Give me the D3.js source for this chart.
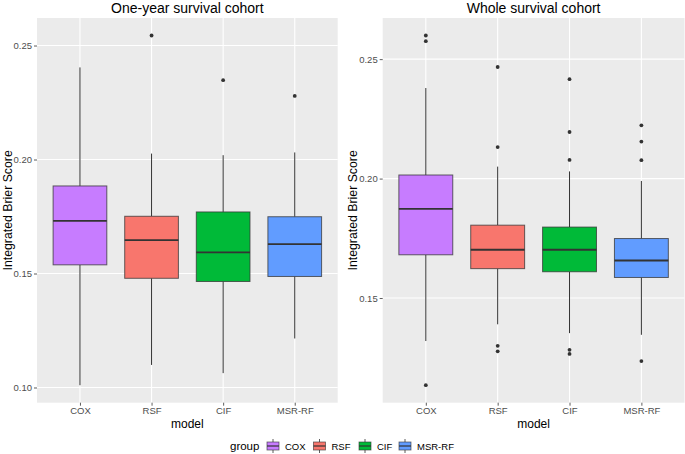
<!DOCTYPE html>
<html>
<head>
<meta charset="utf-8">
<script src="https://cdn.jsdelivr.net/npm/d3@7"></script>
<style>
  body { margin: 0; background: #fff; }
  svg { display: block; font-family: "Liberation Sans", Arial, Helvetica, sans-serif; }
</style>
</head>
<body>
<svg id="chart" width="685" height="454"></svg>
<script>
// ---- Data ----
const models = ["COX", "RSF", "CIF", "MSR-RF"];
const colors = ["#C77CFF", "#F8766D", "#00BA38", "#619CFF"];
const panelTitles = ["One-year survival cohort", "Whole survival cohort"];
const yTicksLeft = [0.10, 0.15, 0.20, 0.25];
const yTicksRight = [0.15, 0.20, 0.25];

// One-year survival cohort
const oneYearLow    = [0.1010, 0.1099, 0.1063, 0.1215];
const oneYearQ1     = [0.1538, 0.1479, 0.1465, 0.1487];
const oneYearMedian = [0.1731, 0.1646, 0.1593, 0.1629];
const oneYearQ3     = [0.1884, 0.1751, 0.1770, 0.1749];
const oneYearHigh   = [0.2404, 0.2026, 0.2019, 0.2031];
const oneYearOutliers = [[], [0.2544], [0.2348], [0.2279]];

// Whole survival cohort
const wholeLow    = [0.1320, 0.1390, 0.1353, 0.1346];
const wholeQ1     = [0.1681, 0.1623, 0.1610, 0.1586];
const wholeMedian = [0.1873, 0.1702, 0.1702, 0.1657];
const wholeQ3     = [0.2015, 0.1805, 0.1797, 0.1749];
const wholeHigh   = [0.2379, 0.2050, 0.2030, 0.1990];
const wholeOutliers = [
  [0.2599, 0.2575, 0.1135],
  [0.2467, 0.2132, 0.1300, 0.1277],
  [0.2416, 0.2195, 0.2078, 0.1283, 0.1266],
  [0.2223, 0.2155, 0.2077, 0.1236]
];

function buildRows(low, q1, med, q3, high, outs) {
  return models.map((m, i) => ({
    model: m, color: colors[i], low: low[i], q1: q1[i], median: med[i],
    q3: q3[i], high: high[i], outliers: outs[i]
  }));
}

const panels = [
  { title: panelTitles[0], rows: buildRows(oneYearLow, oneYearQ1, oneYearMedian, oneYearQ3, oneYearHigh, oneYearOutliers),
    ticks: yTicksLeft, x0: 37, x1: 337.7, yTitleX: 11.5 },
  { title: panelTitles[1], rows: buildRows(wholeLow, wholeQ1, wholeMedian, wholeQ3, wholeHigh, wholeOutliers),
    ticks: yTicksRight, x0: 382.7, x1: 684.5, yTitleX: 357 }
];

const svg = d3.select("#chart");
const panelTop = 18, panelBottom = 402.7;

panels.forEach(p => {
  const all = [];
  p.rows.forEach(r => { all.push(r.low, r.high, ...r.outliers); });
  const [mn, mx] = d3.extent(all);
  const pad = (mx - mn) * 0.05;
  const y = d3.scaleLinear().domain([mn - pad, mx + pad]).range([panelBottom, panelTop]);
  const x = d3.scalePoint().domain(models).range([p.x0, p.x1]).padding(0.6);
  const bw = x.step() * 0.75;

  const g = svg.append("g");
  g.append("rect").attr("x", p.x0).attr("y", panelTop)
    .attr("width", p.x1 - p.x0).attr("height", panelBottom - panelTop).attr("fill", "#EBEBEB");

  g.selectAll(".hg").data(p.ticks).enter().append("line")
    .attr("x1", p.x0).attr("x2", p.x1)
    .attr("y1", d => y(d)).attr("y2", d => y(d))
    .attr("stroke", "#fff").attr("stroke-width", 1.1);
  g.selectAll(".vg").data(models).enter().append("line")
    .attr("x1", d => x(d)).attr("x2", d => x(d))
    .attr("y1", panelTop).attr("y2", panelBottom)
    .attr("stroke", "#fff").attr("stroke-width", 1.1);

  const yAxis = d3.axisLeft(y).tickValues(p.ticks).tickFormat(d3.format(".2f")).tickSize(3).tickPadding(2);
  const ya = g.append("g").attr("transform", `translate(${p.x0},0)`).call(yAxis);
  const xAxis = d3.axisBottom(x).tickSize(3).tickPadding(2);
  const xa = g.append("g").attr("transform", `translate(0,${panelBottom})`).call(xAxis);
  [ya, xa].forEach(a => {
    a.select(".domain").remove();
    a.selectAll(".tick line").attr("stroke", "#333").attr("stroke-width", 0.8);
    a.selectAll(".tick text").attr("fill", "#4D4D4D").style("font-size", "9.5px");
  });

  const bx = g.selectAll(".box").data(p.rows).enter().append("g");
  bx.append("line")
    .attr("x1", d => x(d.model)).attr("x2", d => x(d.model))
    .attr("y1", d => y(d.high)).attr("y2", d => y(d.q3))
    .attr("stroke", "#333").attr("stroke-width", 1);
  bx.append("line")
    .attr("x1", d => x(d.model)).attr("x2", d => x(d.model))
    .attr("y1", d => y(d.q1)).attr("y2", d => y(d.low))
    .attr("stroke", "#333").attr("stroke-width", 1);
  bx.append("rect")
    .attr("x", d => x(d.model) - bw / 2).attr("width", bw)
    .attr("y", d => y(d.q3)).attr("height", d => y(d.q1) - y(d.q3))
    .attr("fill", d => d.color).attr("stroke", "#333").attr("stroke-opacity", 0.75).attr("stroke-width", 1);
  bx.append("line")
    .attr("x1", d => x(d.model) - bw / 2).attr("x2", d => x(d.model) + bw / 2)
    .attr("y1", d => y(d.median)).attr("y2", d => y(d.median))
    .attr("stroke", "#333").attr("stroke-width", 1.8);
  bx.each(function(d) {
    d3.select(this).selectAll("circle").data(d.outliers).enter().append("circle")
      .attr("cx", x(d.model)).attr("cy", v => y(v)).attr("r", 1.9).attr("fill", "#333");
  });

  svg.append("text").attr("x", (p.x0 + p.x1) / 2).attr("y", 12.5)
    .attr("text-anchor", "middle").style("font-size", "14px").attr("fill", "#000").text(p.title);
  svg.append("text").attr("x", (p.x0 + p.x1) / 2).attr("y", 427.5)
    .attr("text-anchor", "middle").style("font-size", "12px").attr("fill", "#000").text("model");
  svg.append("text").attr("transform", `translate(${p.yTitleX},${(panelTop + panelBottom) / 2}) rotate(-90)`)
    .attr("text-anchor", "middle").style("font-size", "12.3px").attr("fill", "#000").text("Integrated Brier Score");
});

// legend
const legY = 446;
const leg = svg.append("g");
leg.append("text").attr("x", 230).attr("y", legY + 4).style("font-size", "11.5px").attr("fill", "#000").text("group");
const keyX = [273, 319.5, 365, 405];
models.forEach((m, i) => {
  const kx = keyX[i];
  leg.append("line").attr("x1", kx).attr("x2", kx).attr("y1", legY - 7).attr("y2", legY + 7)
    .attr("stroke", "#333").attr("stroke-width", 0.8);
  leg.append("rect").attr("x", kx - 6).attr("y", legY - 4).attr("width", 12).attr("height", 8)
    .attr("fill", colors[i]).attr("stroke", "#333").attr("stroke-opacity", 0.75).attr("stroke-width", 0.8);
  leg.append("line").attr("x1", kx - 6).attr("x2", kx + 6).attr("y1", legY).attr("y2", legY)
    .attr("stroke", "#333").attr("stroke-width", 1.2);
  leg.append("text").attr("x", kx + 12).attr("y", legY + 3.5).style("font-size", "9.5px").attr("fill", "#000").text(m);
});
</script>
</body>
</html>
